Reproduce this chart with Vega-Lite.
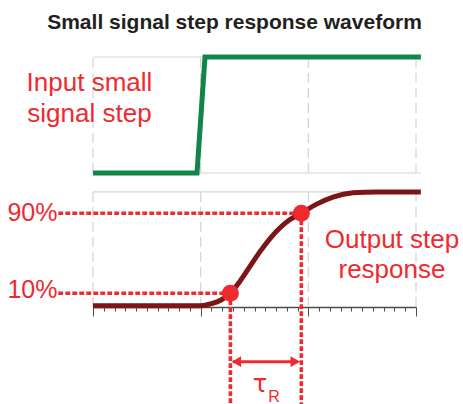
{
  "$schema": "https://vega.github.io/schema/vega-lite/v6.json",
  "width": 323,
  "height": 250,
  "autosize": {"type": "none"},
  "padding": {"left": 93, "top": 57, "right": 47, "bottom": 97},
  "config": {"view": {"stroke": null}, "font": "Liberation Sans"},
  "title": {
    "text": "Small signal step response waveform",
    "font": "Liberation Sans",
    "fontSize": 21,
    "fontWeight": "bold",
    "color": "#231f20",
    "anchor": "middle",
    "frame": "group",
    "baseline": "alphabetic",
    "dx": -20,
    "offset": -3
  },
  "resolve": {"scale": {"y": "independent"}},
  "encoding": {
    "x": {
      "field": "x",
      "type": "quantitative",
      "scale": {"domain": [0, 3], "nice": false, "zero": false},
      "axis": {
        "title": null,
        "labels": false,
        "grid": false,
        "values": [0, 0.1, 0.2, 0.3, 0.4, 0.5, 0.6, 0.7, 0.8, 0.9, 1, 1.1, 1.2, 1.3, 1.4, 1.5, 1.6, 1.7, 1.8, 1.9, 2, 2.1, 2.2, 2.3, 2.4, 2.5, 2.6, 2.7, 2.8, 2.9, 3],
        "domainColor": "#4d4d4d",
        "domainWidth": 1.3,
        "tickColor": "#4d4d4d",
        "tickWidth": 1,
        "tickSize": {"condition": {"test": "abs(datum.value - round(datum.value)) < 0.001", "value": 9}, "value": 4}
      }
    }
  },
  "layer": [
    {
      "data": {"values": [{"x": 0}, {"x": 1}, {"x": 2}, {"x": 3}]},
      "mark": {"type": "rule", "color": "#d4d4d4", "strokeWidth": 1.2, "strokeDash": [10, 5]},
      "encoding": {
        "y": {"datum": 0, "type": "quantitative", "scale": {"domain": [-1.155, 1], "nice": false, "zero": false}, "axis": null},
        "y2": {"datum": 1}
      }
    },
    {
      "data": {"values": [{"x": 0, "x2": 3.045, "y": 0}, {"x": 0, "x2": 3.045, "y": 1}]},
      "mark": {"type": "rule", "color": "#d4d4d4", "strokeWidth": 1.2},
      "encoding": {
        "x2": {"field": "x2"},
        "y": {"field": "y", "type": "quantitative", "scale": {"domain": [-1.155, 1], "nice": false, "zero": false}, "axis": null}
      }
    },
    {
      "data": {"values": [{"x": 0}, {"x": 1}, {"x": 2}, {"x": 3}]},
      "mark": {"type": "rule", "color": "#d4d4d4", "strokeWidth": 1.2, "strokeDash": [10, 5]},
      "encoding": {
        "y": {"datum": -0.012, "type": "quantitative", "scale": {"domain": [-0.012, 2.187], "nice": false, "zero": false}, "axis": null},
        "y2": {"datum": 1}
      }
    },
    {
      "data": {"values": [{"x": 0, "x2": 3.045, "y": 1}]},
      "mark": {"type": "rule", "color": "#d4d4d4", "strokeWidth": 1.2},
      "encoding": {
        "x2": {"field": "x2"},
        "y": {"field": "y", "type": "quantitative", "scale": {"domain": [-0.012, 2.187], "nice": false, "zero": false}, "axis": null}
      }
    },
    {
      "data": {"values": [
        {"x": 0, "y": 0}, {"x": 0.966, "y": 0}, {"x": 1.04, "y": 1}, {"x": 3.045, "y": 1}
      ]},
      "mark": {"type": "line", "color": "#11854a", "strokeWidth": 5, "strokeJoin": "miter", "strokeCap": "butt"},
      "encoding": {
        "y": {"field": "y", "type": "quantitative", "scale": {"domain": [-1.155, 1], "nice": false, "zero": false}, "axis": null}
      }
    },
    {
      "data": {"values": [
        {"x": 0, "y": 0}, {"x": 1.0, "y": 0}, {"x": 1.1, "y": 0.018}, {"x": 1.19, "y": 0.05},
        {"x": 1.276, "y": 0.109}, {"x": 1.365, "y": 0.215}, {"x": 1.458, "y": 0.345}, {"x": 1.551, "y": 0.475},
        {"x": 1.644, "y": 0.59}, {"x": 1.737, "y": 0.685}, {"x": 1.83, "y": 0.757}, {"x": 1.935, "y": 0.813},
        {"x": 2.077, "y": 0.893}, {"x": 2.229, "y": 0.955}, {"x": 2.415, "y": 0.992}, {"x": 2.635, "y": 1},
        {"x": 3.045, "y": 1}
      ]},
      "mark": {"type": "line", "color": "#7d1517", "strokeWidth": 5, "interpolate": "monotone", "strokeCap": "butt"},
      "encoding": {
        "y": {"field": "y", "type": "quantitative", "scale": {"domain": [-0.012, 2.187], "nice": false, "zero": false}, "axis": null}
      }
    },
    {
      "data": {"values": [
        {"x": -0.322, "x2": 1.276, "y": 0.109},
        {"x": -0.322, "x2": 1.935, "y": 0.813}
      ]},
      "mark": {"type": "rule", "color": "#ee2a2f", "strokeWidth": 3.6, "strokeDash": [4.8, 2.2]},
      "encoding": {
        "x2": {"field": "x2"},
        "y": {"field": "y", "type": "quantitative", "scale": {"domain": [-0.012, 2.187], "nice": false, "zero": false}, "axis": null}
      }
    },
    {
      "data": {"values": [
        {"x": 1.276, "y": 0.109, "y2": -0.87},
        {"x": 1.935, "y": 0.813, "y2": -0.87}
      ]},
      "mark": {"type": "rule", "color": "#ee2a2f", "strokeWidth": 3.6, "strokeDash": [4.8, 2.2]},
      "encoding": {
        "y": {"field": "y", "type": "quantitative", "scale": {"domain": [-0.012, 2.187], "nice": false, "zero": false}, "axis": null},
        "y2": {"field": "y2"}
      }
    },
    {
      "data": {"values": [{"x": 1.276, "y": 0.109}, {"x": 1.935, "y": 0.813}]},
      "mark": {"type": "point", "shape": "circle", "filled": true, "opacity": 1, "size": 290, "color": "#ee2a2f"},
      "encoding": {
        "y": {"field": "y", "type": "quantitative", "scale": {"domain": [-0.012, 2.187], "nice": false, "zero": false}, "axis": null}
      }
    },
    {
      "data": {"values": [
        {"x": -0.33, "y": 0.813, "label": "90%"},
        {"x": -0.33, "y": 0.14, "label": "10%"}
      ]},
      "mark": {"type": "text", "align": "right", "baseline": "middle", "fontSize": 25, "color": "#ee2a2f", "font": "Liberation Sans"},
      "encoding": {
        "y": {"field": "y", "type": "quantitative", "scale": {"domain": [-0.012, 2.187], "nice": false, "zero": false}, "axis": null},
        "text": {"field": "label"}
      }
    },
    {
      "data": {"values": [{"x": 1.3, "x2": 1.9, "y": -0.4925}]},
      "mark": {"type": "rule", "color": "#ee2a2f", "strokeWidth": 3},
      "encoding": {
        "x2": {"field": "x2"},
        "y": {"field": "y", "type": "quantitative", "scale": {"domain": [-0.012, 2.187], "nice": false, "zero": false}, "axis": null}
      }
    },
    {
      "data": {"values": [{"x": 1.332, "y": -0.4925, "end": "left"}, {"x": 1.879, "y": -0.4925, "end": "right"}]},
      "mark": {"type": "point", "filled": true, "opacity": 1, "size": 120, "color": "#ee2a2f"},
      "encoding": {
        "y": {"field": "y", "type": "quantitative", "scale": {"domain": [-0.012, 2.187], "nice": false, "zero": false}, "axis": null},
        "shape": {"field": "end", "type": "nominal", "scale": {"domain": ["left", "right"], "range": ["triangle-left", "triangle-right"]}, "legend": null}
      }
    },
    {
      "data": {"values": [{"x": 1.551, "y": -0.757, "t": "τ"}]},
      "mark": {"type": "text", "align": "center", "baseline": "alphabetic", "fontSize": 24, "color": "#ee2a2f", "font": "DejaVu Sans"},
      "encoding": {
        "y": {"field": "y", "type": "quantitative", "scale": {"domain": [-0.012, 2.187], "nice": false, "zero": false}, "axis": null},
        "text": {"field": "t"}
      }
    },
    {
      "data": {"values": [{"x": 1.628, "y": -0.845, "t": "R"}]},
      "mark": {"type": "text", "align": "left", "baseline": "alphabetic", "fontSize": 16, "color": "#ee2a2f", "font": "Liberation Sans"},
      "encoding": {
        "y": {"field": "y", "type": "quantitative", "scale": {"domain": [-0.012, 2.187], "nice": false, "zero": false}, "axis": null},
        "text": {"field": "t"}
      }
    },
    {
      "data": {"values": [{"x": 2.777, "y": 0.505, "t": "Output step\nresponse"}]},
      "mark": {"type": "text", "align": "center", "baseline": "alphabetic", "fontSize": 26, "lineHeight": 30, "lineBreak": "\n", "color": "#ee2a2f", "font": "Liberation Sans"},
      "encoding": {
        "y": {"field": "y", "type": "quantitative", "scale": {"domain": [-0.012, 2.187], "nice": false, "zero": false}, "axis": null},
        "text": {"field": "t"}
      }
    },
    {
      "data": {"values": [{"x": -0.033, "y": 0.703, "t": "Input small\nsignal step"}]},
      "mark": {"type": "text", "align": "center", "baseline": "alphabetic", "fontSize": 26, "lineHeight": 30.7, "lineBreak": "\n", "color": "#ee2a2f", "font": "Liberation Sans"},
      "encoding": {
        "y": {"field": "y", "type": "quantitative", "scale": {"domain": [-1.155, 1], "nice": false, "zero": false}, "axis": null},
        "text": {"field": "t"}
      }
    }
  ]
}
